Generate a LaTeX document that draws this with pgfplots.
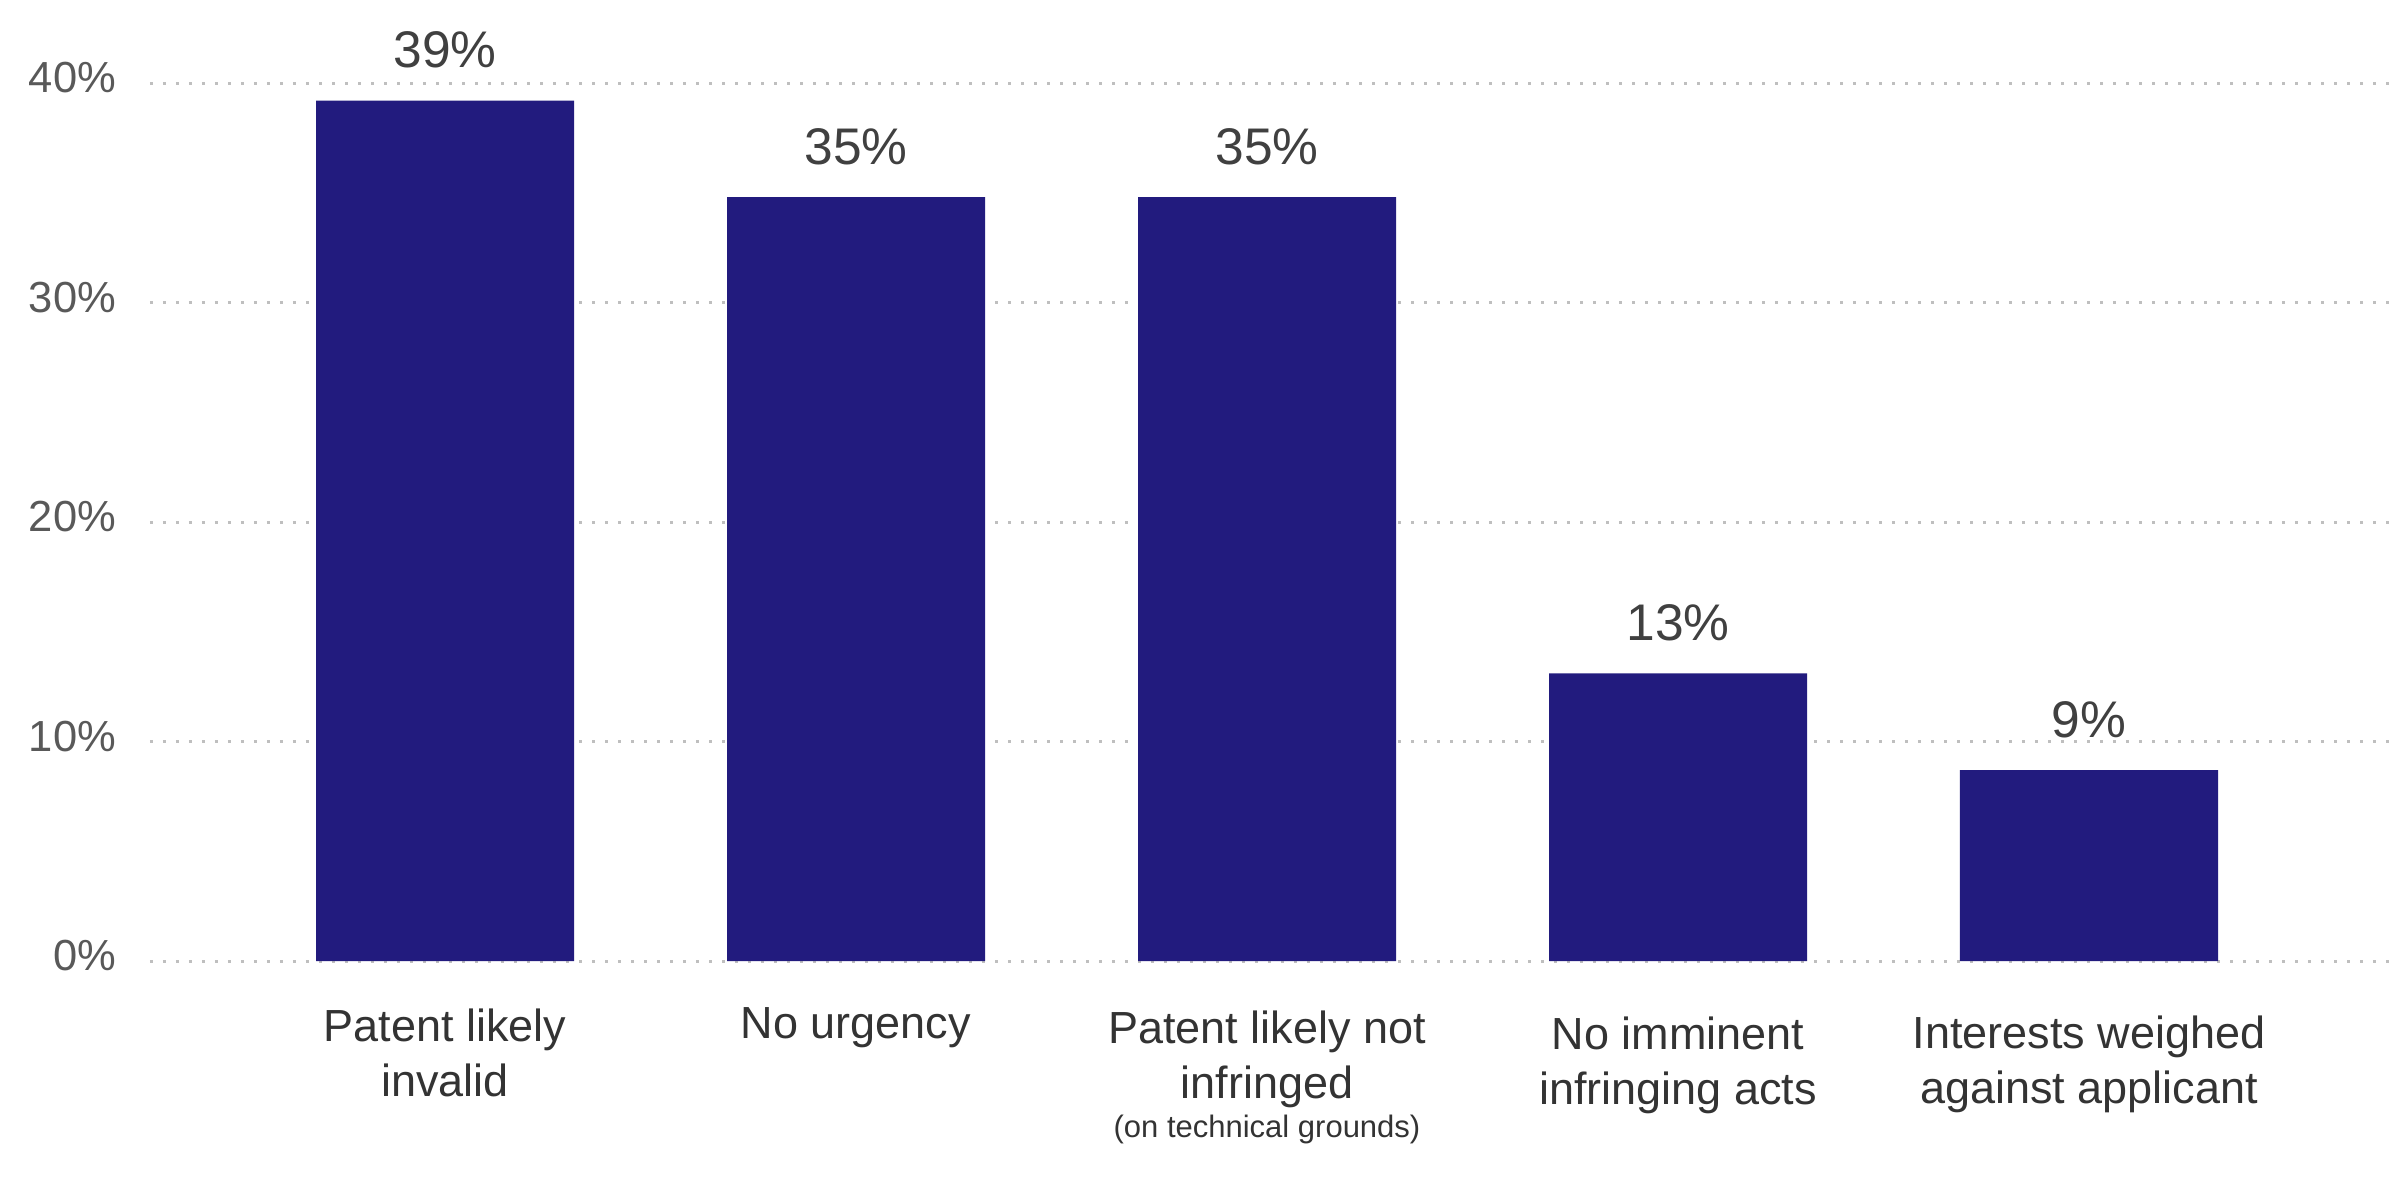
\documentclass[border=0pt]{standalone}
\usepackage{fontspec}
\setmainfont{Liberation Sans}
\usepackage{pgfplots}
\pgfplotsset{compat=1.18}
\definecolor{barblue}{RGB}{34,27,126}
\definecolor{tickgray}{RGB}{89,89,89}
\definecolor{valgray}{RGB}{64,64,64}
\definecolor{catgray}{RGB}{51,51,51}
\definecolor{gridgray}{RGB}{191,191,191}
\begin{document}
\begin{tikzpicture}
\useasboundingbox (-30pt,-44.4pt) rectangle (447.8pt,192.2pt);
\begin{axis}[
 at={(0,0)}, anchor=south west,
 scale only axis, width=447.8pt, height=175.6pt,
 xmin=-0.7178, xmax=4.730, ymin=0, ymax=40,
 axis line style={draw=none},
 tick style={draw=none},
 major tick length=0pt,
 /pgf/number format/assume math mode=true,
 ytick={0,10,20,30,40},
 yticklabels={0\%,10\%,20\%,30\%,40\%},
 yticklabel style={anchor=east, inner sep=0pt, xshift=-6.6pt, yshift=1.1pt, font=\fontsize{8.7}{10}\selectfont, text=tickgray},
 xtick={0,1,2,3,4},
 xticklabels={
  {\rule{0pt}{15.8pt}Patent likely\\invalid},
  {\rule{0pt}{15.2pt}No urgency},
  {\rule{0pt}{16.2pt}Patent likely not\\infringed\\[-3.2pt]{\fontsize{6.2}{7.8}\selectfont (on technical grounds)}},
  {\rule{0pt}{17.4pt}No imminent\\infringing acts},
  {\rule{0pt}{17.2pt}Interests weighed\\against applicant}},
 xticklabel style={anchor=north, inner sep=0pt, align=center, font=\fontsize{9}{11}\selectfont, text=catgray},
 ymajorgrids,
 grid style={gridgray, line width=0.6pt, dash pattern=on 0.6pt off 2pt},
 clip=false,
 nodes near coords={\pgfmathprintnumber[fixed,precision=0]{\pgfplotspointmeta}\%},
 nodes near coords style={anchor=base, yshift=6.6pt, inner sep=0pt, font=\fontsize{10.3}{12}\selectfont, text=valgray},
]
\addplot[ybar, bar width=51.6pt, fill=barblue, draw=none] coordinates {(0,39.2) (1,34.8) (2,34.8) (3,13.1) (4,8.7)};
\end{axis}
\end{tikzpicture}
\end{document}
